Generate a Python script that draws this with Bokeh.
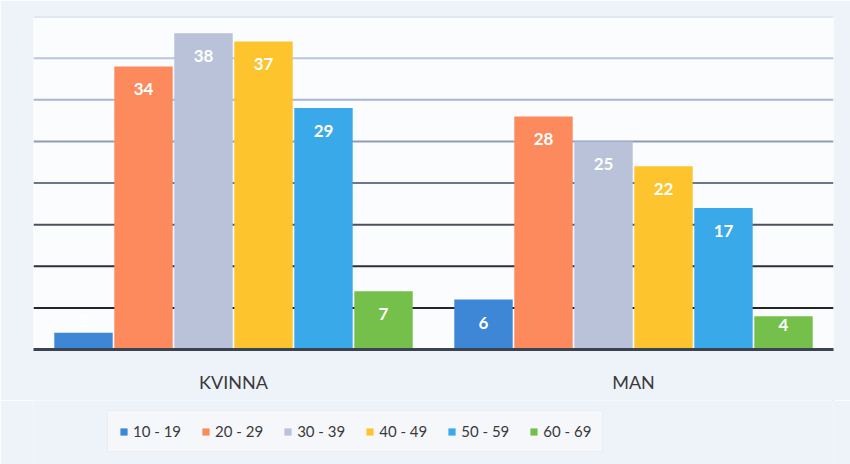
from bokeh.plotting import figure
from bokeh.layouts import column
from bokeh.models import (ColumnDataSource, FactorRange, Range1d, Legend, LegendItem, Span)
from bokeh.transform import dodge
from bokeh.core.properties import value
from bokeh.embed import file_html
from bokeh.resources import INLINE

categories = ["KVINNA", "MAN"]
series = ["10 - 19", "20 - 29", "30 - 39", "40 - 49", "50 - 59", "60 - 69"]
vals_10_19 = [2, 6]
vals_20_29 = [34, 28]
vals_30_39 = [38, 25]
vals_40_49 = [37, 22]
vals_50_59 = [29, 17]
vals_60_69 = [7, 4]
all_vals = [vals_10_19, vals_20_29, vals_30_39, vals_40_49, vals_50_59, vals_60_69]
colors = ["#3d87d6", "#fd8a5c", "#b9c2d9", "#fdc42e", "#3aa9ea", "#74c04a"]
grid_levels = [5, 10, 15, 20, 25, 30, 35, 40]
grid_colors = ["#22252d", "#2c303a", "#4a505f", "#6d7690", "#8f9bb8", "#a9b5d1",
               "#b9c5df", "#c8d2e8"]

BORDER = "#eef2f9"
W, H1, H2 = 850, 400, 64
Y_END = 40
FRAME_TOP, FRAME_BOTTOM_BORDER = 16, 51
frame_h = H1 - FRAME_TOP - FRAME_BOTTOM_BORDER
px_per_unit = frame_h / Y_END

p = figure(width=W, height=H1, x_range=FactorRange(*categories, range_padding=0),
           y_range=Range1d(0, Y_END), output_backend="svg", toolbar_location=None,
           min_border_left=33, min_border_right=17, min_border_top=FRAME_TOP,
           min_border_bottom=FRAME_BOTTOM_BORDER)
p.background_fill_color = "#fbfcfe"
p.border_fill_color = BORDER
p.outline_line_color = None
p.yaxis.visible = False
p.grid.visible = False
for lvl, gc in zip(grid_levels, grid_colors):
    p.add_layout(Span(location=lvl, dimension="width", line_color=gc, line_width=2,
                      level="underlay"))

offsets = [-0.375, -0.225, -0.075, 0.075, 0.225, 0.375]
for name, vals, col, off in zip(series, all_vals, colors, offsets):
    hpx = [v * px_per_unit for v in vals]
    yoff = [23 if h >= 40 else (9 if h >= 25 else -12) for h in hpx]
    src = ColumnDataSource(dict(cat=categories, v=vals, lab=[str(v) for v in vals], yoff=yoff))
    p.vbar(x=dodge("cat", off, range=p.x_range), top="v", width=0.146, source=src,
           fill_color=col, line_color=None)
    p.text(x=dodge("cat", off, range=p.x_range), y="v", text="lab", y_offset="yoff",
           source=src, text_align="center", text_baseline="middle",
           text_color="white", text_font=value("Lato"), text_font_style="bold",
           text_font_size="17px")

p.xaxis.axis_line_color = "#3b4350"
p.xaxis.axis_line_width = 3
p.xaxis.major_tick_line_color = None
p.xaxis.minor_tick_line_color = None
p.xaxis.major_label_standoff = 15
p.xaxis.major_label_text_font = "Lato"
p.xaxis.major_label_text_font_size = "18px"
p.xaxis.major_label_text_color = "#3a3a3a"

# legend strip
q = figure(width=W, height=H2, x_range=Range1d(0, 1), y_range=Range1d(0, 1),
           output_backend="svg", toolbar_location=None,
           min_border_left=0, min_border_right=0, min_border_top=0, min_border_bottom=0)
q.axis.visible = False
q.grid.visible = False
q.outline_line_color = None
q.background_fill_color = BORDER
q.border_fill_color = BORDER
items = []
for name, col in zip(series, colors):
    r = q.vbar(x=[5], top=[5], bottom=[4], width=0.1, fill_color=col, line_color=None)
    items.append(LegendItem(label=name, renderers=[r]))

legend = Legend(items=items, orientation="horizontal", location=(74, 12))
legend.glyph_width = 9
legend.glyph_height = 9
legend.label_standoff = 5
legend.spacing = 20
legend.padding = 11
legend.margin = 0
legend.label_text_font = "Lato"
legend.label_text_font_size = "15px"
legend.label_text_color = "#3a3a3a"
legend.background_fill_color = "#f4f7fb"
legend.border_line_color = "#dde3ee"
q.add_layout(legend, "center")

layout = column(p, q, spacing=0)
open("out.html", "w").write(file_html(layout, INLINE))
